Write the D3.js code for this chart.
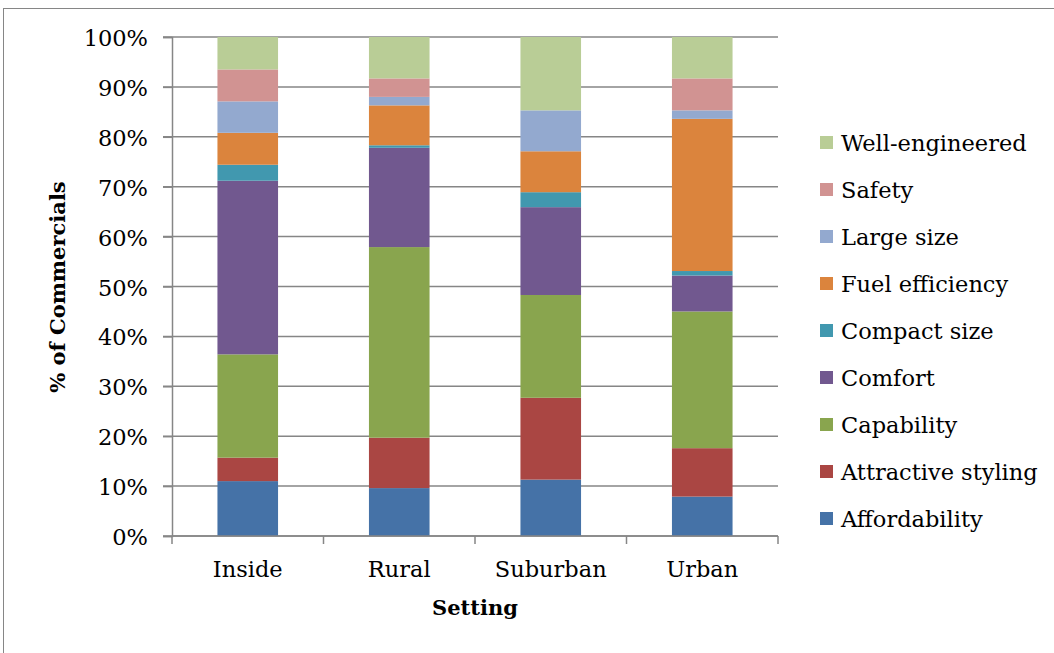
<!DOCTYPE html>
<html><head><meta charset="utf-8">
<script src="https://cdn.jsdelivr.net/npm/d3@7"></script>
<style>body{margin:0;background:#fff}svg{display:block}text{font-family:"DejaVu Serif",serif;fill:#000}</style>
</head><body><svg id="c" width="1054" height="653"></svg>
<script>
const categories = ["Inside","Rural","Suburban","Urban"];
const seriesNames = ["Affordability","Attractive styling","Capability","Comfort","Compact size","Fuel efficiency","Large size","Safety","Well-engineered"];
const affordability   = [11.0, 9.6, 11.3, 7.9];
const attractive      = [4.7, 10.1, 16.4, 9.7];
const capability      = [20.7, 38.2, 20.6, 27.4];
const comfort         = [34.8, 19.9, 17.6, 7.2];
const compact         = [3.2, 0.5, 3.0, 0.9];
const fuel            = [6.4, 8.0, 8.2, 30.5];
const largeSize       = [6.3, 1.7, 8.2, 1.7];
const safety          = [6.4, 3.7, 0.0, 6.4];
const wellEngineered  = [6.5, 8.3, 14.7, 8.3];
const yTicks = [0,10,20,30,40,50,60,70,80,90,100];
const colors = ["#4572A7","#AA4643","#89A54E","#71588F","#4198AF","#DB843D","#93A9CF","#D19392","#B9CD96"];

const seriesVals = [affordability,attractive,capability,comfort,compact,fuel,largeSize,safety,wellEngineered];
const rows = categories.map((c,i)=>{const o={cat:c}; seriesNames.forEach((s,j)=>o[s]=seriesVals[j][i]); return o;});
const stack = d3.stack().keys(seriesNames).offset(d3.stackOffsetExpand)(rows);

const svg = d3.select("#c");
svg.append("rect").attr("x",3.5).attr("y",8.5).attr("width",1060).attr("height",660)
  .attr("fill","none").attr("stroke","#868686").attr("stroke-width",1);

const L=172, R=778, T=37, B=536;
const FS = "22.5px", FB = "21px";
const x = d3.scaleBand().domain(categories).range([L,R]).paddingInner(0.6).paddingOuter(0.3);
const y = d3.scaleLinear().domain([0,1]).range([B,T]);

// gridlines
svg.append("g").selectAll("line").data(yTicks).join("line")
  .attr("x1",L-9).attr("x2",R).attr("y1",d=>y(d/100)).attr("y2",d=>y(d/100))
  .attr("stroke","#868686").attr("stroke-width",1.5);

// bars
svg.append("g").selectAll("g").data(stack).join("g").attr("fill",(d,i)=>colors[i])
  .selectAll("rect").data(d=>d).join("rect")
  .attr("x",d=>x(d.data.cat)).attr("width",x.bandwidth())
  .attr("y",d=>y(d[1])).attr("height",d=>Math.max(0,y(d[0])-y(d[1])));

// y axis
const ya = d3.axisLeft(y).tickValues(yTicks.map(d=>d/100)).tickFormat(d=>Math.round(d*100)+"%").tickSize(9).tickPadding(15);
const gy = svg.append("g").attr("transform",`translate(${L},0)`).call(ya);
gy.select(".domain").attr("stroke","#868686").attr("stroke-width",1.5);
gy.selectAll(".tick line").attr("stroke","#868686").attr("stroke-width",1.5);
gy.selectAll("text").style("font-size",FS).attr("font-family",null).attr("dy","0.38em");

// x axis
const xPos = d3.scaleLinear().domain([0,4]).range([L,R]);
const gx = svg.append("g");
gx.append("line").attr("x1",L).attr("x2",R).attr("y1",B).attr("y2",B).attr("stroke","#868686").attr("stroke-width",1.5);
gx.selectAll("line.t").data(d3.range(5)).join("line").attr("class","t")
  .attr("x1",d=>xPos(d)).attr("x2",d=>xPos(d)).attr("y1",B).attr("y2",B+8).attr("stroke","#868686").attr("stroke-width",1.5);
gx.selectAll("text").data(categories).join("text")
  .attr("x",d=>x(d)+x.bandwidth()/2).attr("y",577).attr("text-anchor","middle")
  .style("font-size",FS).text(d=>d);

// titles
svg.append("text").attr("x",475).attr("y",615).attr("text-anchor","middle")
  .style("font-size",FB).style("font-weight","bold").text("Setting");
svg.append("text").attr("transform","translate(65,287) rotate(-90)").attr("text-anchor","middle")
  .style("font-size",FB).style("font-weight","bold").text("% of Commercials");

// legend
const legOrder = seriesNames.map((s,i)=>i).reverse();
const lg = svg.append("g").selectAll("g").data(legOrder).join("g")
  .attr("transform",(d,i)=>`translate(820,${143+i*47.0})`);
lg.append("rect").attr("x",0).attr("y",-7).attr("width",13).attr("height",13).attr("fill",d=>colors[d]);
lg.append("text").attr("x",21).attr("y",8).style("font-size",FS).text(d=>seriesNames[d]);
</script></body></html>
